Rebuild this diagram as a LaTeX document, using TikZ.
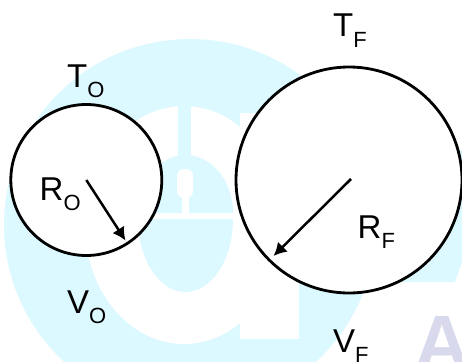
\documentclass[tikz,border=0pt]{standalone}
\usepackage{fontspec}
\setmainfont{Liberation Sans}
\usetikzlibrary{arrows.meta}
\definecolor{ink}{HTML}{000000}
\definecolor{wmcyan}{HTML}{DCF9FF}
\definecolor{wmlav}{HTML}{D9D9ED}
\newcommand\quant[2]{#1\raisebox{-10.5pt}{\fontsize{22}{22}\selectfont #2}}
\tikzset{
  ball/.style={circle, draw=ink, fill=white, line width=2.8pt, inner sep=0pt, outer sep=0pt, minimum size=#1},
  rad/.style={-{Latex[length=13pt,width=14pt]}, line width=2.5pt, color=ink},
  lab/.style={font=\fontsize{33}{33}\selectfont, text=ink, anchor=base west, inner sep=0pt},
  wm/.style={fill=wmcyan},
  gap/.style={fill=white},
}
\begin{document}
\begin{tikzpicture}[x=1pt,y=-1pt]
  \useasboundingbox (0,0) rectangle (462,361);
  \clip (0,0) rectangle (462,361);
  % watermark
  \fill[wm] (190,225) circle (186);
  \fill[gap] (184,225) ellipse [x radius=99, y radius=119];
  \fill[gap] (240,113) rectangle (299,339);
  \fill[wm] (178,105) rectangle (191,160);
  \fill[wm] (138,213) arc [start angle=180, end angle=360, x radius=47.5, y radius=58] -- cycle;
  \fill[wm] (138,219) arc [start angle=180, end angle=0, x radius=47.5, y radius=73] -- cycle;
  \fill[gap, rounded corners=7pt] (177,169) rectangle (193,198);
  \fill[gap] (182,195) rectangle (189,214);
  \fill[wm] (400,150) -- (470,150) -- (470,240) -- (455,282) -- (400,282) -- cycle;
  \node[font=\fontsize{77}{77}\selectfont\bfseries, text=wmlav, anchor=base, inner sep=0pt] (wmA) at (442.5,369) {A};
  % spheres
  \node[ball=151pt] (sphO) at (86.3,180) {};
  \node[ball=226pt] (sphF) at (349,180) {};
  \coordinate (tipO) at (125.5,240.5);
  \coordinate (tipF) at (273.5,256);
  \draw[rad] (sphO.center) -- (tipO);
  \draw[rad] (sphF.center) ++(2,-1) coordinate (startF) (startF) -- (tipF);
  % labels
  \node[lab] (tO) at (67,87) {\quant{T}{O}};
  \node[lab] (rO) at (39.5,200) {\quant{R}{O}};
  \node[lab] (vO) at (67,313) {\quant{V}{O}};
  \node[lab] (tF) at (333,37) {\quant{T}{F}};
  \node[lab] (rF) at (357.5,238) {\quant{R}{F}};
  \node[lab] (vF) at (333,352) {\quant{V}{F}};
\end{tikzpicture}
\end{document}
